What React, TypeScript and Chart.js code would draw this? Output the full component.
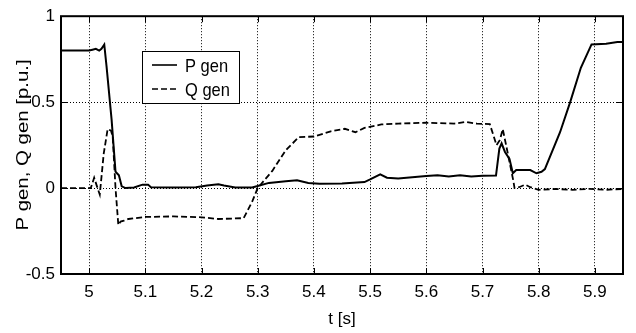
import React, { useEffect, useRef } from "react";
import { Chart, registerables } from "chart.js";

Chart.register(...registerables);

const pTime = [4.95, 5.0, 5.006, 5.012, 5.018, 5.022, 5.027, 5.031, 5.04, 5.047, 5.05, 5.053, 5.058, 5.065, 5.08, 5.095, 5.105, 5.11, 5.15, 5.19, 5.21, 5.23, 5.24, 5.26, 5.29, 5.3, 5.32, 5.35, 5.37, 5.39, 5.41, 5.45, 5.49, 5.5, 5.518, 5.53, 5.55, 5.58, 5.6, 5.62, 5.64, 5.66, 5.68, 5.7, 5.724, 5.73, 5.734, 5.74, 5.748, 5.754, 5.76, 5.785, 5.796, 5.805, 5.811, 5.838, 5.856, 5.875, 5.894, 5.92, 5.94, 5.95];
const pGen = [0.8, 0.8, 0.805, 0.81, 0.8, 0.81, 0.835, 0.71, 0.4, 0.096, 0.085, 0.075, 0.01, 0.0, 0.003, 0.02, 0.02, 0.005, 0.003, 0.005, 0.015, 0.022, 0.015, 0.004, 0.004, 0.012, 0.03, 0.04, 0.045, 0.03, 0.025, 0.027, 0.035, 0.05, 0.08, 0.06, 0.055, 0.065, 0.07, 0.075, 0.068, 0.075, 0.068, 0.072, 0.073, 0.23, 0.26, 0.21, 0.17, 0.086, 0.105, 0.105, 0.086, 0.095, 0.11, 0.325, 0.5, 0.7, 0.836, 0.84, 0.85, 0.85];

const qTime = [4.95, 5.003, 5.009, 5.013, 5.019, 5.026, 5.033, 5.039, 5.042, 5.047, 5.052, 5.056, 5.062, 5.07, 5.1, 5.15, 5.2, 5.23, 5.275, 5.29, 5.3, 5.326, 5.35, 5.373, 5.4, 5.43, 5.455, 5.474, 5.49, 5.52, 5.55, 5.6, 5.65, 5.67, 5.69, 5.713, 5.725, 5.731, 5.736, 5.742, 5.755, 5.757, 5.765, 5.776, 5.785, 5.8, 5.83, 5.86, 5.89, 5.92, 5.95];
const qGen = [0.0, 0.0, 0.06, 0.02, -0.038, 0.2, 0.343, 0.334, 0.3, 0.0, -0.215, -0.195, -0.19, -0.18, -0.168, -0.165, -0.17, -0.18, -0.175, -0.08, 0.0, 0.1, 0.22, 0.296, 0.3, 0.33, 0.345, 0.325, 0.35, 0.37, 0.375, 0.38, 0.375, 0.385, 0.375, 0.372, 0.25, 0.28, 0.343, 0.25, 0.04, 0.0, 0.005, 0.02, 0.005, -0.01, -0.005, -0.01, -0.005, -0.01, -0.005];

const xTicks = [5.0, 5.1, 5.2, 5.3, 5.4, 5.5, 5.6, 5.7, 5.8, 5.9];
const yTicks = [-0.5, 0, 0.5, 1];
const seriesNames = ["P gen", "Q gen"];
const xTitle = "t [s]";
const yTitle = "P gen, Q gen [p.u.]";

const FONT = '"Liberation Sans", Arial, sans-serif';
const FS = 17;

const framePlugin = {
  id: "frame",
  afterDraw(chart: any) {
    const { ctx, chartArea } = chart;
    const xs = chart.scales.x;
    const ys = chart.scales.y;
    ctx.save();
    ctx.strokeStyle = "#000";
    ctx.setLineDash([]);
    ctx.lineWidth = 1;
    const tl = 6;
    for (const v of xTicks) {
      const px = Math.round(xs.getPixelForValue(v)) + 0.5;
      ctx.beginPath();
      ctx.moveTo(px, chartArea.top);
      ctx.lineTo(px, chartArea.top + tl);
      ctx.moveTo(px, chartArea.bottom);
      ctx.lineTo(px, chartArea.bottom - tl);
      ctx.stroke();
    }
    for (const v of yTicks) {
      const py = Math.round(ys.getPixelForValue(v)) + 0.5;
      ctx.beginPath();
      ctx.moveTo(chartArea.left, py);
      ctx.lineTo(chartArea.left + tl, py);
      ctx.moveTo(chartArea.right, py);
      ctx.lineTo(chartArea.right - tl, py);
      ctx.stroke();
    }
    ctx.lineWidth = 2;
    ctx.strokeRect(chartArea.left, chartArea.top, chartArea.right - chartArea.left, chartArea.bottom - chartArea.top);

    // legend
    const lx = 142.5, ly = 51.5, lw = 97, lh = 52;
    ctx.fillStyle = "#fff";
    ctx.fillRect(lx, ly, lw, lh);
    ctx.lineWidth = 1;
    ctx.strokeRect(lx, ly, lw, lh);
    ctx.fillStyle = "#000";
    const rows = [65, 89];
    seriesNames.forEach((name, i) => {
      ctx.lineWidth = 1.6;
      ctx.setLineDash(i === 0 ? [] : [6, 3]);
      ctx.beginPath();
      ctx.moveTo(152, rows[i]);
      ctx.lineTo(177, rows[i]);
      ctx.stroke();
      ctx.setLineDash([]);
      ctx.save();
      ctx.translate(185, rows[i] + 7);
      ctx.scale(1, 1.12);
      ctx.font = `16.5px ${FONT}`;
      ctx.textBaseline = "alphabetic";
      ctx.textAlign = "left";
      ctx.fillText(name, 0, 0);
      ctx.restore();
    });

    // y title (rotated, stretched along its length)
    ctx.save();
    ctx.translate(27.5, 145);
    ctx.rotate(-Math.PI / 2);
    ctx.scale(1.2, 1);
    ctx.font = `17px ${FONT}`;
    ctx.textAlign = "center";
    ctx.textBaseline = "alphabetic";
    ctx.fillText(yTitle, 0, 0);
    ctx.restore();
    ctx.restore();
  },
};

export default function App() {
  const ref = useRef<HTMLCanvasElement>(null);
  useEffect(() => {
    if (!ref.current) return;
    const chart = new Chart(ref.current, {
      type: "line",
      data: {
        datasets: [
          {
            label: seriesNames[0],
            data: pTime.map((t, i) => ({ x: t, y: pGen[i] })),
            borderColor: "#000",
            borderWidth: 2,
            pointRadius: 0,
            tension: 0,
            fill: false,
          },
          {
            label: seriesNames[1],
            data: qTime.map((t, i) => ({ x: t, y: qGen[i] })),
            borderColor: "#000",
            borderWidth: 1.8,
            borderDash: [6, 3],
            pointRadius: 0,
            tension: 0,
            fill: false,
          },
        ],
      },
      options: {
        responsive: false,
        animation: false,
        events: [],
        layout: { padding: { left: 0, top: 12, right: 13, bottom: 0 } },
        plugins: { legend: { display: false }, tooltip: { enabled: false } },
        scales: {
          x: {
            type: "linear",
            min: 4.95,
            max: 5.95,
            afterBuildTicks: (s: any) => {
              s.ticks = xTicks.map((v) => ({ value: v }));
            },
            afterFit: (s: any) => {
              s.height = 59;
            },
            ticks: {
              color: "#000",
              font: { family: FONT, size: FS },
              padding: 8,
              maxRotation: 0,
              autoSkip: false,
              callback: (v: any) => String(v),
            },
            grid: {
              color: "#000",
              lineWidth: 1,
              drawTicks: false,
            },
            border: { display: false, dash: [1, 2] },
            title: {
              display: true,
              text: xTitle,
              color: "#000",
              font: { family: FONT, size: FS },
              padding: { top: 0, bottom: 3 },
            },
          },
          y: {
            type: "linear",
            min: -0.5,
            max: 1,
            afterBuildTicks: (s: any) => {
              s.ticks = yTicks.map((v) => ({ value: v }));
            },
            afterFit: (s: any) => {
              s.width = 61;
            },
            ticks: {
              color: "#000",
              font: { family: FONT, size: FS },
              padding: 6,
              callback: (v: any) => String(v),
            },
            grid: {
              color: "#000",
              lineWidth: 1,
              drawTicks: false,
            },
            border: { display: false, dash: [1, 2] },
            title: { display: false },
          },
        },
      },
      plugins: [framePlugin],
    } as any);
    return () => chart.destroy();
  }, []);
  return (
    <div style={{ position: "absolute", left: 0, top: 0, width: 636, height: 333, background: "#fff" }}>
      <canvas ref={ref} width={636} height={333} style={{ display: "block" }} />
    </div>
  );
}
